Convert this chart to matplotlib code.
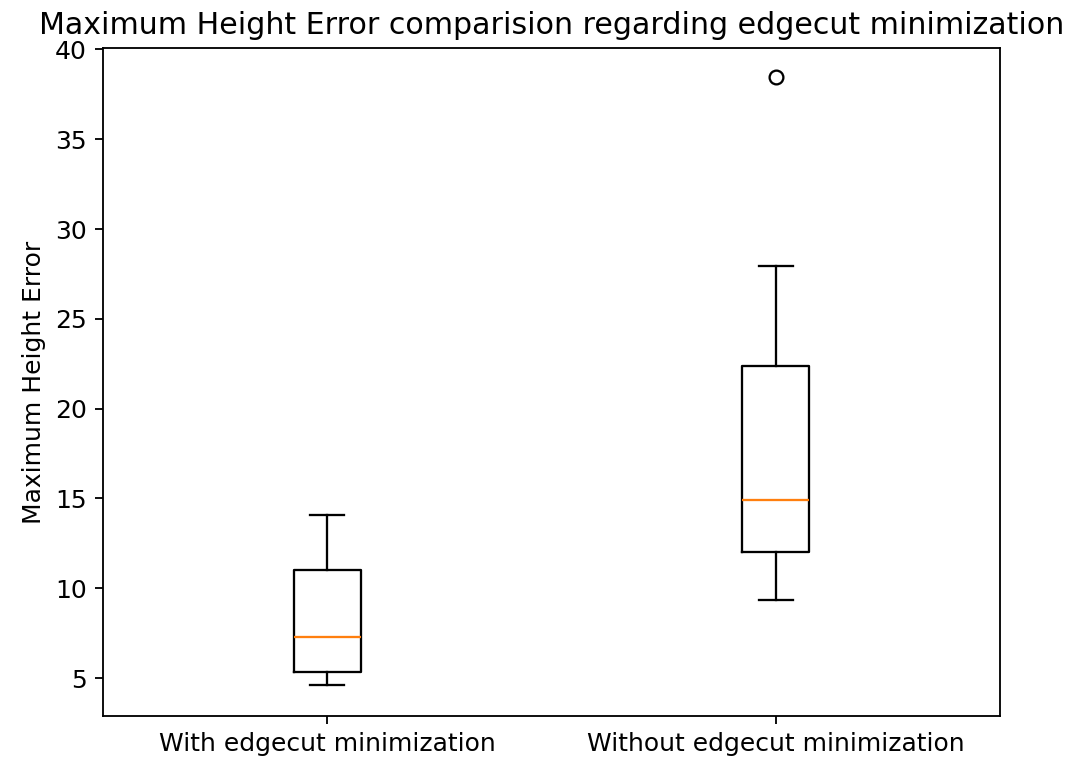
import matplotlib
matplotlib.use("Agg")
import matplotlib.pyplot as plt

# Summary statistics for each configuration
labels = ["With edgecut minimization", "Without edgecut minimization"]
whisker_low = [4.63, 9.34]
q1 = [5.33, 12.03]
median = [7.30, 14.89]
q3 = [11.01, 22.39]
whisker_high = [14.08, 27.96]
outliers = [[], [38.45]]

stats = []
for i, lab in enumerate(labels):
    stats.append({
        "label": lab,
        "whislo": whisker_low[i],
        "q1": q1[i],
        "med": median[i],
        "q3": q3[i],
        "whishi": whisker_high[i],
        "fliers": outliers[i],
    })

plt.rcParams["font.size"] = 10.9
plt.rcParams["axes.titlesize"] = 13.1

W, H = 1071, 760
fig = plt.figure(figsize=(W / 165, H / 165), dpi=165)
ax = fig.add_axes([103 / W, 1 - 716 / H, (1000 - 103) / W, (716 - 48) / H])
ax.bxp(stats)
ax.set_ylim(2.89, 40.08)
ax.set_title("Maximum Height Error comparision regarding edgecut minimization")
ax.set_ylabel("Maximum Height Error")

fig.savefig("out.png", dpi=165)
